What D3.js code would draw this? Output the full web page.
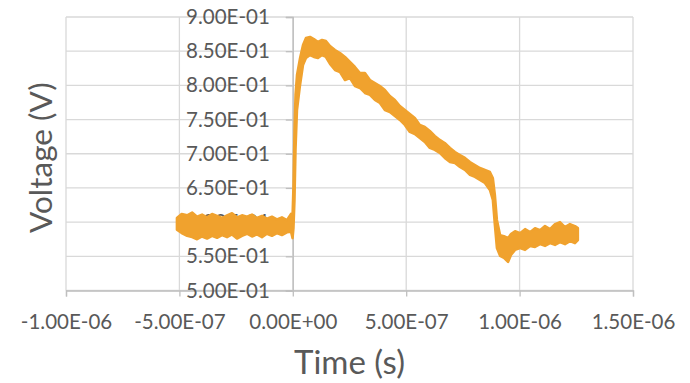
<!DOCTYPE html>
<html>
<head>
<meta charset="utf-8">
<script src="https://cdn.jsdelivr.net/npm/d3@7"></script>
<style>
  body { margin: 0; background: #fff; }
  text { font-family: Lato, "Open Sans", sans-serif; fill: #595959; }
</style>
</head>
<body>
<div id="my_dataviz"></div>
<script>
// time in ns, upper and lower edge of the noisy trace (V)
var timeNs = [-511,-490,-466,-444,-422,-400,-378,-356,-334,-312,-290,-268,-246,-224,-202,-180,-158,-136,-114,-92,-70,-48,-26,-8,-1,
  3,7.5,12,18.5,32,45,58,76,93,111,129,146,164,186,208,230,252,274,296,318,340,362,384,406,428,450,472,494,516,538,560,582,
  604,626,648,670,693,715,737,759,781,803,825,847,869,882,891,900,914,931,949,962,980,1002,1024,1046,1068,1090,1112,1134,
  1156,1178,1200,1222,1244,1257];
var vHigh = [0.606,0.612,0.610,0.614,0.608,0.611,0.607,0.612,0.609,0.606,0.610,0.613,0.607,0.610,0.608,0.611,0.606,0.609,0.605,0.608,0.604,0.607,0.603,0.612,0.6105,
  0.6544,0.7348,0.7860,0.8152,0.8401,0.8591,0.8693,0.8708,0.8678,0.8635,0.8664,0.8649,0.8576,0.8518,0.8474,0.8415,0.8342,0.8269,0.8181,0.8181,0.8079,0.8035,0.7991,0.7933,0.7845,0.7787,0.7699,0.7640,0.7582,0.7523,0.7421,0.7392,
  0.7333,0.7260,0.7202,0.7158,0.7085,0.7026,0.6982,0.6939,0.6880,0.6836,0.6792,0.6763,0.6734,0.6646,0.6398,0.6032,0.5810,0.5795,0.5766,0.5825,0.5868,0.5839,0.5898,0.5854,0.5912,0.5883,0.5942,0.5898,
  0.5971,0.6000,0.5927,0.5971,0.5942,0.5912];
var vLow = [0.589,0.584,0.580,0.578,0.575,0.579,0.576,0.580,0.577,0.581,0.578,0.582,0.576,0.580,0.583,0.579,0.582,0.578,0.583,0.580,0.584,0.581,0.585,0.586,0.5766,
  0.5912,0.6325,0.7056,0.7640,0.8006,0.8298,0.8401,0.8444,0.8415,0.8401,0.8444,0.8415,0.8313,0.8225,0.8196,0.8079,0.8108,0.7991,0.7962,0.7889,0.7860,0.7787,0.7743,0.7640,0.7611,0.7553,0.7494,0.7421,0.7319,0.7289,0.7231,0.7173,
  0.7085,0.7056,0.7012,0.6939,0.6880,0.6865,0.6807,0.6763,0.6690,0.6661,0.6617,0.6573,0.6471,0.6325,0.5956,0.5620,0.5506,0.5477,0.5418,0.5520,0.5594,0.5620,0.5594,0.5652,0.5637,0.5678,0.5652,0.5693,
  0.5667,0.5708,0.5678,0.5722,0.5693,0.5737];

var xTicks = [-1e-6,-5e-7,0,5e-7,1e-6,1.5e-6];
var xTickLabels = ["-1.00E-06","-5.00E-07","0.00E+00","5.00E-07","1.00E-06","1.50E-06"];
var yTicks = [0.5,0.55,0.6,0.65,0.7,0.75,0.8,0.85,0.9];
var yTickLabels = ["5.00E-01","5.50E-01","6.00E-01","6.50E-01","7.00E-01","7.50E-01","8.00E-01","8.50E-01","9.00E-01"];

var margin = {top: 17, right: 57, bottom: 92.5, left: 66},
  width = 690 - margin.left - margin.right,
  height = 383 - margin.top - margin.bottom;

var svg = d3.select('#my_dataviz')
  .append('svg')
    .attr('width', 690)
    .attr('height', 383)
  .append('g')
    .attr('transform','translate('+margin.left+','+margin.top+')');

var x = d3.scaleLinear().domain([-1e-6,1.5e-6]).range([0,width]);
var y = d3.scaleLinear().domain([0.5,0.9]).range([height,0]);

// gridlines
svg.append("g")
  .selectAll("line")
  .data(yTicks)
  .enter().append("line")
    .attr("x1",0).attr("x2",width)
    .attr("y1",function(d){ return y(d); })
    .attr("y2",function(d){ return y(d); })
    .attr("stroke","#d9d9d9").attr("stroke-width",1.3);
svg.append("g")
  .selectAll("line")
  .data(xTicks)
  .enter().append("line")
    .attr("y1",0).attr("y2",height)
    .attr("x1",function(d){ return x(d); })
    .attr("x2",function(d){ return x(d); })
    .attr("stroke","#d9d9d9").attr("stroke-width",1.3);

// x axis at the bottom
var xAxis = svg.append("g")
  .attr("class","x_axis")
  .attr("transform","translate(0,"+height+")")
  .call(d3.axisBottom(x).tickValues(xTicks).tickSize(6).tickPadding(18)
    .tickFormat(function(d,i){ return xTickLabels[i]; }));

// y axis crossing at t = 0
var yAxis = svg.append("g")
  .attr("class","y_axis")
  .attr("transform","translate("+x(0)+",0)")
  .call(d3.axisLeft(y).tickValues(yTicks).tickSize(7).tickPadding(16)
    .tickFormat(function(d,i){ return yTickLabels[i]; }));

svg.selectAll(".x_axis path, .y_axis path").attr("stroke","#bfbfbf").attr("stroke-width",1.3);
svg.selectAll(".x_axis line, .y_axis line").attr("stroke","#bfbfbf").attr("stroke-width",1.3);
svg.selectAll(".x_axis text, .y_axis text")
  .style("font-size","20.5px")
  .attr("fill","#595959");

// noisy trace as a band between the upper and lower edges
var pts = timeNs.map(function(t,i){ return {t: t*1e-9, hi: vHigh[i], lo: vLow[i]}; });
svg.append("path")
  .datum(pts)
  .attr("fill","#f0a22e")
  .attr("stroke","#f0a22e")
  .attr("stroke-width",2.5)
  .attr("stroke-linejoin","round")
  .attr("d", d3.area()
    .x(function(d){ return x(d.t); })
    .y0(function(d){ return y(d.lo); })
    .y1(function(d){ return y(d.hi); }));

// axis titles
svg.append("text")
  .attr("x", width/2)
  .attr("y", height+83)
  .attr("text-anchor","middle")
  .style("font-size","33px")
  .text("Time (s)");

svg.append("text")
  .attr("transform","translate(-14,"+(height/2+4)+") rotate(-90)")
  .attr("text-anchor","middle")
  .style("font-size","31.5px")
  .text("Voltage (V)");
</script>
</body>
</html>
